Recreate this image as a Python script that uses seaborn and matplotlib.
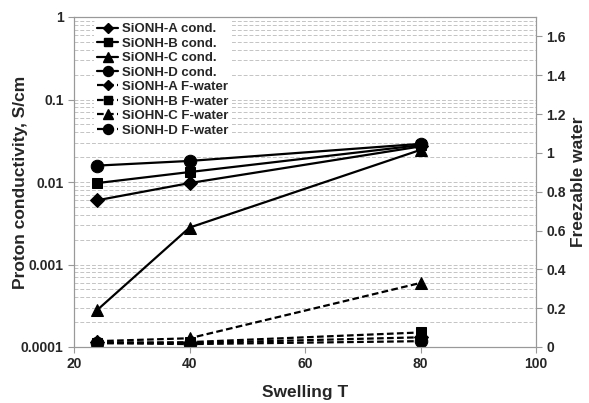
import matplotlib
matplotlib.use("Agg")
import matplotlib.pyplot as plt
import matplotlib.ticker as mticker
import seaborn as sns
import pandas as pd
from matplotlib.lines import Line2D

swelling_t = [24, 40, 80]

# proton conductivity, S/cm (left, log axis)
cond_a = [0.0060, 0.0097, 0.027]
cond_b = [0.0097, 0.0132, 0.028]
cond_c = [0.00028, 0.0028, 0.0245]
cond_d = [0.0158, 0.0180, 0.029]

# freezable water fraction (right, linear axis)
fw_a = [0.025, 0.02, 0.05]
fw_b = [0.02, 0.025, 0.075]
fw_c = [0.03, 0.045, 0.33]
fw_d = [0.02, 0.015, 0.03]

cond_labels = ["SiONH-A cond.", "SiONH-B cond.", "SiONH-C cond.", "SiONH-D cond."]
fw_labels = ["SiONH-A F-water", "SiONH-B F-water", "SiOHN-C F-water", "SiONH-D F-water"]
markers = ["D", "s", "^", "o"]
msizes = [7, 7, 8.5, 9]

sns.set_style("white")
plt.rcParams["font.family"] = ["Liberation Sans", "DejaVu Sans"]
plt.rcParams["font.weight"] = "bold"
plt.rcParams["axes.labelweight"] = "bold"

fig = plt.figure(figsize=(5.89, 4.03), dpi=100)
ax = fig.add_axes([74 / 589, 56 / 403, (536 - 74) / 589, (347 - 17) / 403])
ax2 = ax.twinx()

handles = []
for vals, lab, m, ms in zip([cond_a, cond_b, cond_c, cond_d], cond_labels, markers, msizes):
    df = pd.DataFrame({"T": swelling_t, "v": vals})
    sns.lineplot(data=df, x="T", y="v", ax=ax, color="black", lw=1.6,
                 marker=m, markersize=ms, markeredgecolor="black", legend=False)
    handles.append(Line2D([], [], color="black", lw=1.6, marker=m,
                          markersize=ms * 0.8, label=lab))

for vals, lab, m, ms in zip([fw_a, fw_b, fw_c, fw_d], fw_labels, markers, msizes):
    df = pd.DataFrame({"T": swelling_t, "v": vals})
    sns.lineplot(data=df, x="T", y="v", ax=ax2, color="black", lw=1.6,
                 marker=m, markersize=ms, markeredgecolor="black", legend=False)
    ax2.lines[-1].set_dashes([3, 1.5])
    handles.append(Line2D([], [], color="black", lw=1.6, marker=m, dashes=[3, 1.5],
                          markersize=ms * 0.8, label=lab))

ax.set_yscale("log")
ax.set_ylim(0.0001, 1)
ax.set_xlim(20, 100)
ax.set_xticks([20, 40, 60, 80, 100])
ax.set_yticks([0.0001, 0.001, 0.01, 0.1, 1])
ax.yaxis.set_major_formatter(mticker.FuncFormatter(lambda v, p: f"{v:g}" if v >= 0.001 else "0.0001"))
ax.yaxis.set_minor_locator(mticker.LogLocator(base=10, subs=range(2, 10)))
ax.yaxis.set_minor_formatter(mticker.NullFormatter())
ax.grid(True, which="both", axis="y", color="#c4c4c4", ls=(0, (4, 2)), lw=0.7)
ax.set_axisbelow(True)

ax2.set_ylim(0, 1.7)
ax2.set_yticks([0, 0.2, 0.4, 0.6, 0.8, 1.0, 1.2, 1.4, 1.6])
ax2.yaxis.set_major_formatter(mticker.FuncFormatter(lambda v, p: f"{v:g}"))

for a in (ax, ax2):
    for s in a.spines.values():
        s.set_color("#999999")
    a.tick_params(axis="both", length=4, color="#999999", labelsize=10, direction="out")
ax.tick_params(axis="y", which="minor", length=0)
ax.tick_params(axis="x", bottom=True)
ax.tick_params(axis="y", left=True)
ax2.tick_params(axis="y", right=True)
for lbl in ax.get_xticklabels() + ax.get_yticklabels() + ax2.get_yticklabels():
    lbl.set_fontweight("bold")

ax.set_xlabel("Swelling T", fontsize=12.5, fontweight="bold")
ax.set_ylabel("Proton conductivity, S/cm", fontsize=12.5, fontweight="bold")
ax2.set_ylabel("Freezable water", fontsize=12.5, fontweight="bold")
ax.yaxis.set_label_coords(-46 / 462, 0.5)
ax2.yaxis.set_label_coords(1 + 35 / 462, 0.5)
ax.xaxis.set_label_coords(0.5, -38 / 330)

leg = ax2.legend(handles=handles, loc="upper left", bbox_to_anchor=(0.03, 1.01),
                 frameon=True, framealpha=1, edgecolor="none",
                 handlelength=1.6, handletextpad=0.3, labelspacing=0.17,
                 borderpad=0.2, prop={"weight": "bold", "size": 9.5})

fig.savefig("out.png", dpi=100)
